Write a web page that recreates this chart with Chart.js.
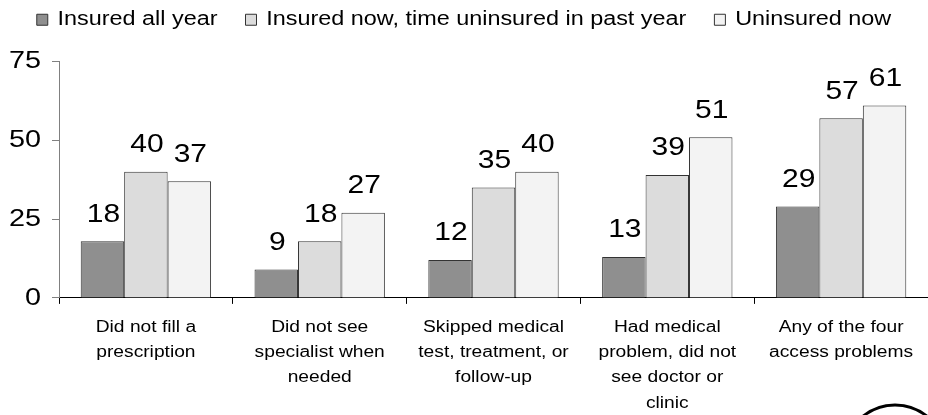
<!DOCTYPE html>
<html>
<head>
<meta charset="utf-8">
<script src="https://cdn.jsdelivr.net/npm/chart.js@4.4.0/dist/chart.umd.min.js"></script>
<style>
  html, body { margin: 0; padding: 0; background: #fff; }
  #wrap { width: 928px; height: 415px; }
</style>
</head>
<body>
<div id="wrap"><canvas id="canvas"></canvas></div>
<script>
// categories and values
let categories = [
  ["Did not fill a", "prescription"],
  ["Did not see", "specialist when", "needed"],
  ["Skipped medical", "test, treatment, or", "follow-up"],
  ["Had medical", "problem, did not", "see doctor or", "clinic"],
  ["Any of the four", "access problems"]
];
let seriesNames = ["Insured all year", "Insured now, time uninsured in past year", "Uninsured now"];
let insuredAllYear = [18, 9, 12, 13, 29];
let insuredNowGap = [40, 18, 35, 39, 57];
let uninsuredNow = [37, 27, 40, 51, 61];
let yTicks = [0, 25, 50, 75];

let bgColors = ["#8f8f8f", "#dcdcdc", "#f3f3f3"];
let font = "'Liberation Sans', Arial, sans-serif";
let stretch = 1.2;

// the text in the picture is drawn wider than normal, so stretch it sideways
let wideText = {
  id: "wideText",
  beforeInit(chart) {
    let c = chart.ctx;
    let fill = c.fillText.bind(c);
    let measure = c.measureText.bind(c);
    c.fillText = function (text, x, y, maxWidth) {
      c.save();
      c.translate(x, y);
      c.scale(stretch, 1);
      fill(text, 0, 0);
      c.restore();
    };
    c.measureText = function (text) {
      let m = measure(text);
      return {
        width: m.width * stretch,
        actualBoundingBoxLeft: m.actualBoundingBoxLeft * stretch,
        actualBoundingBoxRight: m.actualBoundingBoxRight * stretch,
        actualBoundingBoxAscent: m.actualBoundingBoxAscent,
        actualBoundingBoxDescent: m.actualBoundingBoxDescent
      };
    };
  }
};

// more room between the legend and the plot
let legendGap = {
  id: "legendGap",
  afterInit(chart) {
    let fit = chart.legend.fit;
    chart.legend.fit = function () {
      fit.call(this);
      this.height += 22;
    };
  }
};

// numbers above the bars
let barLabels = {
  id: "barLabels",
  afterDatasetsDraw(chart) {
    let ctx = chart.ctx;
    ctx.save();
    ctx.font = "25px " + font;
    ctx.fillStyle = "#000";
    ctx.textAlign = "center";
    ctx.textBaseline = "bottom";
    chart.data.datasets.forEach((ds, i) => {
      chart.getDatasetMeta(i).data.forEach((bar, j) => {
        ctx.fillText(ds.data[j], bar.x + 1, bar.y - 14);
      });
    });
    ctx.restore();
  }
};

// the round mark cut off at the bottom right corner
let cornerMark = {
  id: "cornerMark",
  afterDraw(chart) {
    let ctx = chart.ctx;
    ctx.save();
    ctx.strokeStyle = "#000";
    ctx.lineWidth = 3;
    ctx.beginPath();
    ctx.arc(895, 456, 51, 0, Math.PI * 2);
    ctx.stroke();
    ctx.restore();
  }
};

let ctx = document.getElementById("canvas").getContext("2d");
let grafica = new Chart(ctx, {
  type: "bar",
  data: {
    labels: categories,
    datasets: [
      { label: seriesNames[0], data: insuredAllYear, backgroundColor: bgColors[0] },
      { label: seriesNames[1], data: insuredNowGap, backgroundColor: bgColors[1] },
      { label: seriesNames[2], data: uninsuredNow, backgroundColor: bgColors[2] }
    ].map(d => Object.assign(d, {
      borderColor: "#333",
      borderWidth: 1,
      categoryPercentage: 0.75,
      barPercentage: 1
    }))
  },
  options: {
    responsive: true,
    maintainAspectRatio: false,
    animation: false,
    layout: { padding: { left: 0, right: 0, top: -18, bottom: -12 } },
    plugins: {
      legend: {
        position: "top",
        labels: {
          font: { family: font, size: 19.5 },
          color: "#000",
          boxWidth: 11,
          boxHeight: 11,
          padding: 28
        }
      },
      tooltip: { enabled: false }
    },
    scales: {
      x: {
        grid: {
          offset: true,
          drawOnChartArea: false,
          drawTicks: true,
          tickLength: 6,
          color: "#000"
        },
        border: { color: "#000", width: 1 },
        ticks: {
          font: { family: font, size: 16, lineHeight: 1.58 },
          color: "#000",
          maxRotation: 0,
          autoSkip: false,
          padding: 11
        }
      },
      y: {
        min: 0,
        max: 75,
        afterBuildTicks(scale) {
          scale.ticks = yTicks.map(v => ({ value: v }));
        },
        afterFit(scale) {
          scale.width = 59;
        },
        grid: {
          drawOnChartArea: false,
          drawTicks: true,
          tickLength: 7,
          color: "#808080"
        },
        border: { color: "#808080", width: 1 },
        ticks: {
          font: { family: font, size: 24 },
          color: "#000",
          padding: 11
        }
      }
    }
  },
  plugins: [wideText, legendGap, barLabels, cornerMark]
});
</script>
</body>
</html>
